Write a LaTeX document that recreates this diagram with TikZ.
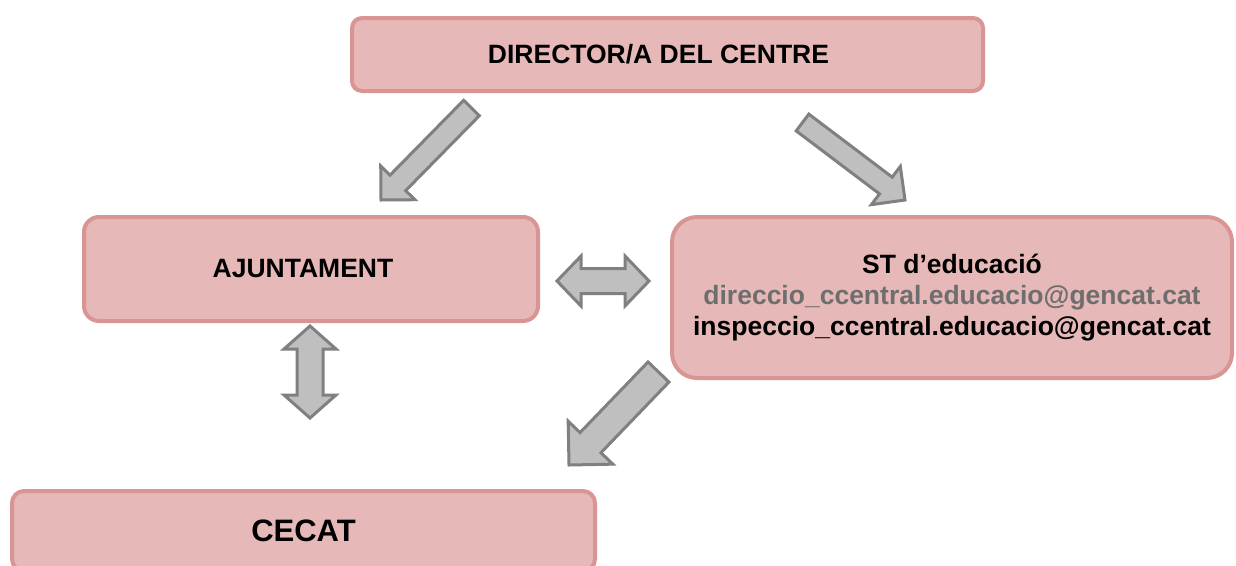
\documentclass[tikz,border=0pt]{standalone}
\usepackage{fontspec}
\setmainfont{Liberation Sans}
\usetikzlibrary{calc}
\definecolor{boxfill}{HTML}{E6B8B7}
\definecolor{boxline}{HTML}{D99594}
\definecolor{arrfill}{HTML}{BFBFBF}
\definecolor{arrline}{HTML}{808080}
\definecolor{mailgray}{HTML}{6E6E6E}
\tikzset{
  box/.style={draw=boxline, fill=boxfill, line width=4pt, inner sep=0pt,
    align=center, font=\bfseries\fontsize{26.5}{31}\selectfont},
  blockarr/.style={draw=arrline, fill=arrfill, line width=3pt, line join=miter},
}
% single block arrow: name, tail, tip, shaft half width, head half width, head length
\newcommand{\sarrow}[6]{%
  \coordinate (#1-b) at ($(#3)!#6!(#2)$);
  \draw[blockarr] ($(#2)!#4!90:(#3)$) -- ($(#1-b)!#4!90:(#3)$) -- ($(#1-b)!#5!90:(#3)$)
    -- (#3) -- ($(#1-b)!#5!-90:(#3)$) -- ($(#1-b)!#4!-90:(#3)$) -- ($(#2)!#4!-90:(#3)$) -- cycle;
}
% double block arrow: name, end A, end B, shaft half width, head half width, head length
\newcommand{\darrow}[6]{%
  \coordinate (#1-a) at ($(#2)!#6!(#3)$);
  \coordinate (#1-b) at ($(#3)!#6!(#2)$);
  \draw[blockarr] (#2) -- ($(#1-a)!#5!90:(#3)$) -- ($(#1-a)!#4!90:(#3)$)
    -- ($(#1-b)!#4!-90:(#2)$) -- ($(#1-b)!#5!-90:(#2)$) -- (#3)
    -- ($(#1-b)!#5!90:(#2)$) -- ($(#1-b)!#4!90:(#2)$)
    -- ($(#1-a)!#4!-90:(#3)$) -- ($(#1-a)!#5!-90:(#3)$) -- cycle;
}
\begin{document}
\begin{tikzpicture}[x=1pt,y=-1pt]
\useasboundingbox (0,0) rectangle (1236,565);

\node[box, minimum width=631pt, minimum height=73pt, rounded corners=10pt]
  (dir) at (667.5,54.5) {\hspace*{-18pt}DIRECTOR/A DEL CENTRE};
\node[box, minimum width=454pt, minimum height=104pt, rounded corners=15pt]
  (ajt) at (311,269) {\hspace*{-16pt}AJUNTAMENT};
\node[box, minimum width=560pt, minimum height=161pt, rounded corners=25pt]
  (st) at (952,297.5) {ST d’educació\\
  {\color{mailgray}direccio\_ccentral.educacio@gencat.cat}\\
  inspeccio\_ccentral.educacio@gencat.cat};
\node[box, minimum width=583pt, minimum height=80pt, rounded corners=12pt,
  font=\bfseries\fontsize{31}{35}\selectfont]
  (cecat) at (303.5,531) {CECAT};

% arrow end points
\coordinate (a1t) at (471.5,108);
\coordinate (a1p) at (381,200);
\coordinate (a2t) at (802.5,122.5);
\coordinate (a2p) at (905,200);
\coordinate (a3t) at (658.5,372);
\coordinate (a3p) at (569,465);
\coordinate (h1) at (557,281);
\coordinate (h2) at (649,281);
\coordinate (v1) at (310,326);
\coordinate (v2) at (310,418);

\sarrow{A1}{a1t}{a1p}{11pt}{24pt}{24pt}
\sarrow{A2}{a2t}{a2p}{10.5pt}{24pt}{24pt}
\sarrow{A3}{a3t}{a3p}{14.5pt}{31pt}{31pt}
\darrow{H}{h1}{h2}{12.5pt}{25pt}{24pt}
\darrow{V}{v1}{v2}{13pt}{26pt}{23pt}
\end{tikzpicture}
\end{document}
